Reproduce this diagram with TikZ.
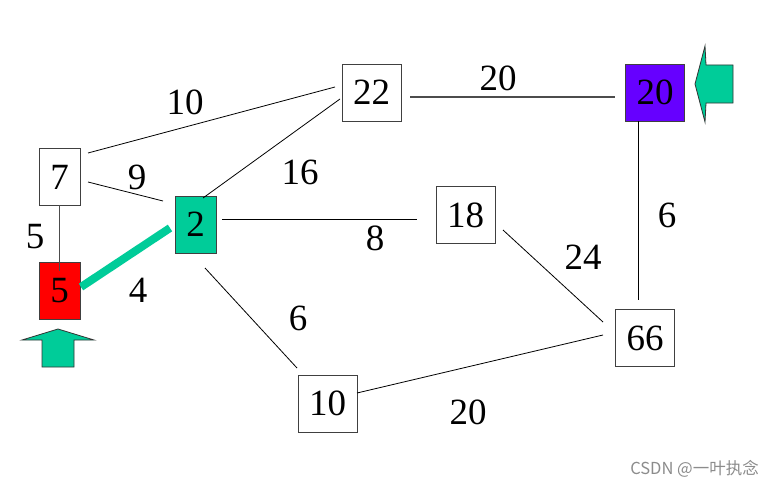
\documentclass[tikz,border=0pt]{standalone}
\usepackage{fontspec}
\setmainfont{Liberation Serif}
\newfontfamily\cjkfont{Noto Sans CJK SC}
\definecolor{tealg}{RGB}{0,204,153}
\definecolor{purp}{RGB}{102,0,255}
\begin{document}
\begin{tikzpicture}[x=1pt,y=-1pt,
  vbox/.style={draw=black!75,line width=0.9pt,minimum width=#1,minimum height=57pt,inner sep=0pt,font=\fontsize{37}{40}\selectfont},
  vbox/.default=59pt,
  edge/.style={line width=0.8pt,black},
  wlab/.style={font=\fontsize{37}{40}\selectfont,inner sep=0pt},
  bigarrow/.style={fill=tealg,draw=black!80,line width=0.8pt}]
\useasboundingbox (0,0) rectangle (774,487);
\fill[white] (0,0) rectangle (774,487);
% nodes
\node[vbox] (n22) at (371.5,92.5) {22};
\node[vbox,fill=purp] (n20) at (655,92.5) {20};
\node[vbox=41pt] (n7) at (59.5,177) {7};
\node[vbox=41pt,fill=tealg] (n2) at (195.5,224.5) {2};
\node[vbox] (n18) at (465.5,215) {18};
\node[vbox=41pt,fill=red] (n5) at (59.5,290.5) {5};
\node[vbox] (n66) at (645,338) {66};
\node[vbox] (n10) at (327.5,403.5) {10};
% connector end points
\coordinate (a1) at (88,153); \coordinate (a2) at (335,87);
\coordinate (b1) at (88,182); \coordinate (b2) at (163,201);
\coordinate (c1) at (340,99); \coordinate (c2) at (203,198);
\coordinate (d1) at (222,219); \coordinate (d2) at (417,219);
\coordinate (e1) at (410,97); \coordinate (e2) at (615,97);
\coordinate (f1) at (638,121); \coordinate (f2) at (638,300);
\coordinate (g1) at (503,230); \coordinate (g2) at (603,322);
\coordinate (h1) at (603,335); \coordinate (h2) at (357,393);
\coordinate (i1) at (205,268); \coordinate (i2) at (297,368);
\coordinate (j1) at (59.5,205); \coordinate (j2) at (59.5,271);
\coordinate (k1) at (81,287); \coordinate (k2) at (170,228);
\draw[edge] (a1) -- (a2);
\draw[edge] (b1) -- (b2);
\draw[edge] (c1) -- (c2);
\draw[edge] (d1) -- (d2);
\draw[edge,black!70,line width=1.1pt] (e1) -- (e2);
\draw[edge] (f1) -- (f2);
\draw[edge] (g1) -- (g2);
\draw[edge] (h1) -- (h2);
\draw[edge] (i1) -- (i2);
\draw[edge,black!70] (j1) -- (j2);
\draw[line width=8pt,tealg] (k1) -- (k2);
% weights
\node[wlab] (w1) at (185,102) {10};
\node[wlab] (w2) at (137,177) {9};
\node[wlab] (w3) at (300,172) {16};
\node[wlab] (w4) at (35,237) {5};
\node[wlab] (w5) at (138,290) {4};
\node[wlab] (w6) at (375,238) {8};
\node[wlab] (w7) at (583,257) {24};
\node[wlab] (w8) at (298,318) {6};
\node[wlab] (w9) at (667,215) {6};
\node[wlab] (w10) at (498,78) {20};
\node[wlab] (w11) at (468,412) {20};
% arrows
\draw[bigarrow] (42,367) -- (42,340) -- (22,340) -- (58,329) -- (94,340) -- (74,340) -- (74,367) -- cycle;
\draw[bigarrow] (733,65) -- (706,65) -- (705,46) -- (695,84) -- (705,122) -- (706,103) -- (733,103) -- cycle;
% watermark
\node[font=\fontsize{16.5}{18}\selectfont\cjkfont,text=black!45,anchor=east,inner sep=0pt] (wm) at (759,469) {CSDN @一叶执念};
\end{tikzpicture}
\end{document}
